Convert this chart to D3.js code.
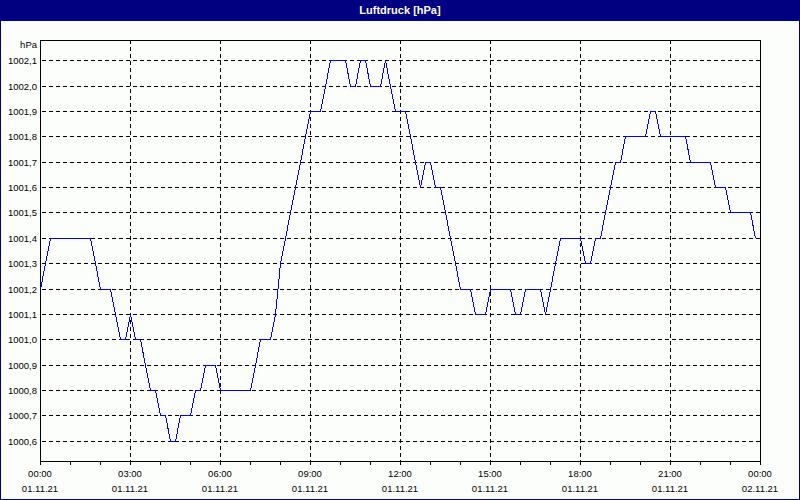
<!DOCTYPE html>
<meta charset="utf-8">
<style>
body { margin: 0; background: #fff; }
svg { display: block; font-family: "Liberation Sans", Arial, sans-serif; }
.tick-label { font-size: 9.5px; fill: #000; }
</style>
<body>
<script src="https://cdn.jsdelivr.net/npm/d3@7/dist/d3.min.js"></script>
<script>
'use strict';

const title = "Luftdruck [hPa]",
      unit = "hPa";

const start = new Date(2021, 10, 1, 0, 0),
      end = new Date(2021, 10, 2, 0, 0),
      stepMinutes = 10; // one reading every 10 minutes

// pressure readings, 01.11.21 00:00 .. 23:50
const pressure = [
  1001.2, 1001.3, 1001.4, 1001.4, 1001.4, 1001.4, 1001.4, 1001.4, 1001.4, 1001.4, 1001.4, 1001.3,
  1001.2, 1001.2, 1001.2, 1001.1, 1001.0, 1001.0, 1001.1, 1001.0, 1001.0, 1000.9, 1000.8, 1000.8,
  1000.7, 1000.7, 1000.6, 1000.6, 1000.7, 1000.7, 1000.7, 1000.8, 1000.8, 1000.9, 1000.9, 1000.9,
  1000.8, 1000.8, 1000.8, 1000.8, 1000.8, 1000.8, 1000.8, 1000.9, 1001.0, 1001.0, 1001.0, 1001.1,
  1001.3, 1001.4, 1001.5, 1001.6, 1001.7, 1001.8, 1001.9, 1001.9, 1001.9, 1002.0, 1002.1, 1002.1,
  1002.1, 1002.1, 1002.0, 1002.0, 1002.1, 1002.1, 1002.0, 1002.0, 1002.0, 1002.1, 1002.0, 1001.9,
  1001.9, 1001.9, 1001.8, 1001.7, 1001.6, 1001.7, 1001.7, 1001.6, 1001.6, 1001.5, 1001.4, 1001.3,
  1001.2, 1001.2, 1001.2, 1001.1, 1001.1, 1001.1, 1001.2, 1001.2, 1001.2, 1001.2, 1001.2, 1001.1,
  1001.1, 1001.2, 1001.2, 1001.2, 1001.2, 1001.1, 1001.2, 1001.3, 1001.4, 1001.4, 1001.4, 1001.4,
  1001.4, 1001.3, 1001.3, 1001.4, 1001.4, 1001.5, 1001.6, 1001.7, 1001.7, 1001.8, 1001.8, 1001.8,
  1001.8, 1001.8, 1001.9, 1001.9, 1001.8, 1001.8, 1001.8, 1001.8, 1001.8, 1001.8, 1001.7, 1001.7,
  1001.7, 1001.7, 1001.7, 1001.6, 1001.6, 1001.6, 1001.5, 1001.5, 1001.5, 1001.5, 1001.5, 1001.4
];

const yTicks = [1000.6, 1000.7, 1000.8, 1000.9, 1001.0, 1001.1, 1001.2, 1001.3,
                1001.4, 1001.5, 1001.6, 1001.7, 1001.8, 1001.9, 1002.0, 1002.1];

const width = 800, height = 500,
      navy = "#000080",
      plot = {left: 40, right: 760, top: 40, bottom: 461};

const de = d3.formatLocale({decimal: ",", thousands: ".", grouping: [3], currency: ["", " €"]});
const fmtY = de.format(".1f"),
      fmtTime = d3.timeFormat("%H:%M"),
      fmtDate = d3.timeFormat("%d.%m.%y");

const data = pressure.map((v, i) => ({t: d3.timeMinute.offset(start, i * stepMinutes), v: v}));

const x = d3.scaleTime().domain([start, end]).range([plot.left, plot.right]);
const y = d3.scaleLinear().domain([1000.52, 1002.18]).range([plot.bottom, plot.top]);

const svg = d3.select("body").append("svg")
    .attr("width", width)
    .attr("height", height);

svg.append("rect")
    .attr("x", 0.5).attr("y", 0.5)
    .attr("width", width - 1).attr("height", height - 1)
    .attr("fill", "#fcfefc")
    .attr("stroke", navy)
    .attr("shape-rendering", "crispEdges");

// title bar
svg.append("rect")
    .attr("x", 0).attr("y", 0)
    .attr("width", width).attr("height", 21)
    .attr("fill", navy);
svg.append("text")
    .attr("x", width / 2).attr("y", 14)
    .attr("text-anchor", "middle")
    .attr("fill", "#fff")
    .style("font-size", "11px")
    .style("font-weight", "bold")
    .text(title);

const grid = svg.append("g")
    .attr("stroke", "#000")
    .attr("stroke-dasharray", "4,3")
    .attr("shape-rendering", "crispEdges");

grid.selectAll("line.h")
  .data(yTicks)
  .enter().append("line")
    .attr("class", "h")
    .attr("x1", plot.left + 2).attr("x2", plot.right)
    .attr("y1", d => Math.round(y(d)) + 0.5)
    .attr("y2", d => Math.round(y(d)) + 0.5);

const majorTicks = x.ticks(d3.timeHour.every(3));
grid.selectAll("line.v")
  .data(majorTicks.slice(1, -1))
  .enter().append("line")
    .attr("class", "v")
    .attr("x1", d => Math.round(x(d)) + 0.5)
    .attr("x2", d => Math.round(x(d)) + 0.5)
    .attr("y1", plot.top).attr("y2", plot.bottom);

// frame
svg.append("rect")
    .attr("x", plot.left + 0.5).attr("y", plot.top + 0.5)
    .attr("width", plot.right - plot.left).attr("height", plot.bottom - plot.top)
    .attr("fill", "none")
    .attr("stroke", "#000")
    .attr("shape-rendering", "crispEdges");

// hourly ticks under the axis
svg.append("g")
    .attr("stroke", "#000")
    .attr("shape-rendering", "crispEdges")
  .selectAll("line")
  .data(x.ticks(d3.timeHour.every(1)))
  .enter().append("line")
    .attr("x1", d => Math.round(x(d)) + 0.5)
    .attr("x2", d => Math.round(x(d)) + 0.5)
    .attr("y1", plot.bottom).attr("y2", plot.bottom + 4);

// y labels
svg.append("g")
  .selectAll("text")
  .data(yTicks)
  .enter().append("text")
    .attr("class", "tick-label")
    .attr("x", 37)
    .attr("y", d => Math.round(y(d)) + 4)
    .attr("text-anchor", "end")
    .text(d => fmtY(d));

svg.append("text")
    .attr("class", "tick-label")
    .attr("x", 37).attr("y", 48)
    .attr("text-anchor", "end")
    .text(unit);

// x labels, time and date
const xl = svg.append("g")
  .selectAll("g")
  .data(majorTicks)
  .enter().append("g")
    .attr("transform", d => "translate(" + Math.round(x(d)) + ",0)");
xl.append("text")
    .attr("class", "tick-label")
    .attr("y", 477)
    .attr("text-anchor", "middle")
    .text(d => fmtTime(d));
xl.append("text")
    .attr("class", "tick-label")
    .attr("y", 492)
    .attr("text-anchor", "middle")
    .text(d => fmtDate(d));

const line = d3.line()
    .x(d => Math.round(x(d.t)) + 0.5)
    .y(d => Math.round(y(d.v)) + 0.5);

svg.append("path")
    .datum(data)
    .attr("fill", "none")
    .attr("stroke", "#0000ff")
    .attr("stroke-width", 1)
    .attr("shape-rendering", "crispEdges")
    .attr("d", line);
</script>
